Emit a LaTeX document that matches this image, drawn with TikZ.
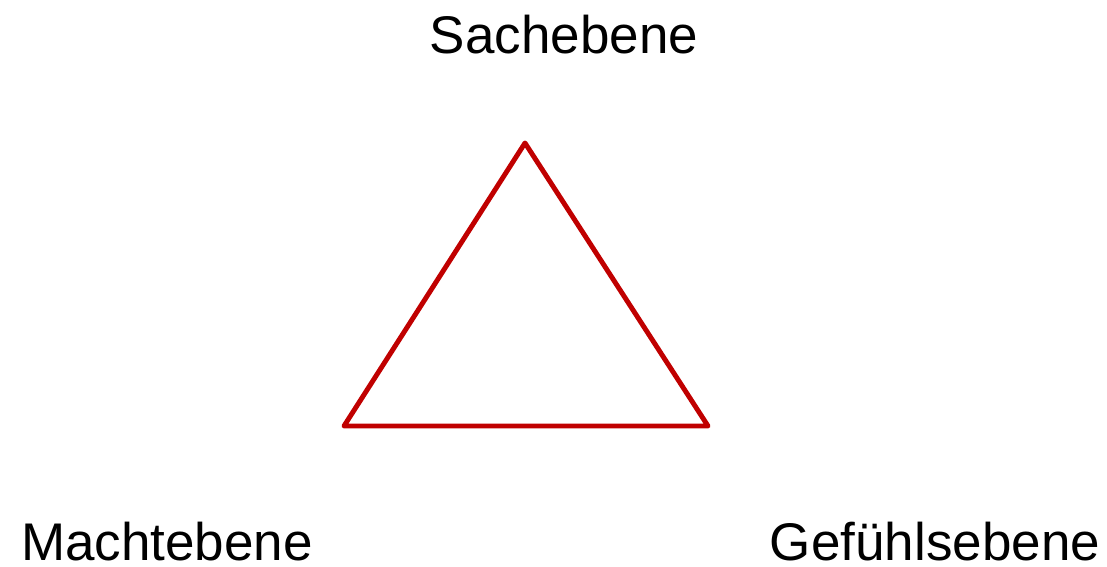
\documentclass[tikz,border=0pt]{standalone}
\usepackage{fontspec}
\setmainfont{Liberation Sans}
\usepackage{tikz}
\usepackage{tkz-euclide}
\definecolor{ebenenrot}{HTML}{C00000}
\tikzset{ebene/.style={font=\fontsize{37.7}{45}\selectfont, inner sep=0pt, anchor=base}}

\begin{document}
\begin{tikzpicture}
        \useasboundingbox (0,0) rectangle (27.675,14.175);
        \tkzDefPoint(13.125,10.6){S}
        \tkzDefPoint(8.6,3.525){M}
        \tkzDefPoint(17.7,3.525){G}
        \tkzDrawPolygon[ebenenrot, line width=3.5pt, line join=round](S,M,G)
        \node[ebene] (sache) at (14.1,12.83) {Sachebene};
        \node[ebene] (macht) at (4.175,0.17) {Machtebene};
        \node[ebene] (gefuehl) at (23.375,0.17) {Gefühlsebene};
    \end{tikzpicture}
\end{document}
